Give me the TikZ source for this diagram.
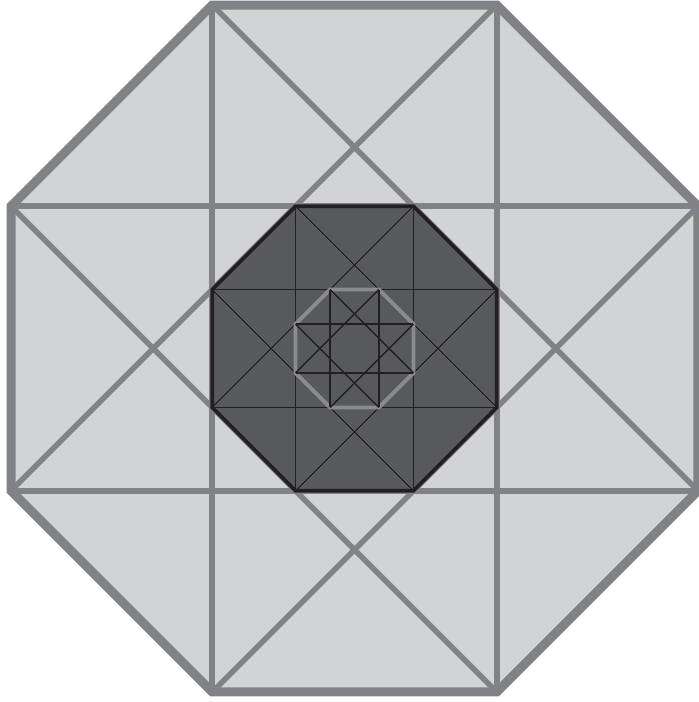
\documentclass[tikz,border=0pt]{standalone}
\definecolor{lightfill}{HTML}{D1D3D4}
\definecolor{midgray}{HTML}{808285}
\definecolor{shadegray}{HTML}{8A8B8E}
\definecolor{darkfill}{HTML}{58595B}
\definecolor{inkblack}{HTML}{231F20}
\tikzset{
  outerline/.style={draw=midgray, line width=5.5},
  outerborder/.style={draw=midgray, line width=9, line join=miter},
  midshade/.style={draw=shadegray, line width=1.8},
  midline/.style={draw=inkblack, line width=1.3},
  midborder/.style={draw=inkblack, line width=3.8, line join=miter},
  innerborder/.style={draw=shadegray, line width=3.8, line join=miter},
  innerline/.style={draw=inkblack, line width=1.4}
}
\begin{document}
\begin{tikzpicture}[x=1pt,y=-1pt]
\useasboundingbox (0,0) rectangle (699,702);
\begin{scope}[shift={(354.5,348.5)}]
  \foreach \k in {0,...,7}{
    \coordinate (A\k) at ({22.5+45*\k}:371.8);
    \coordinate (B\k) at ({22.5+45*\k}:154.0);
    \coordinate (C\k) at ({22.5+45*\k}:63.8);
  }
  % level 1
  \fill[lightfill] (A0)--(A1)--(A2)--(A3)--(A4)--(A5)--(A6)--(A7)--cycle;
  \foreach \k [evaluate=\k as \j using {int(mod(\k+3,8))}] in {0,...,7}
    \draw[outerline] (A\k)--(A\j);
  \draw[outerborder] (A0)--(A1)--(A2)--(A3)--(A4)--(A5)--(A6)--(A7)--cycle;
  % level 2
  \fill[darkfill] (B0)--(B1)--(B2)--(B3)--(B4)--(B5)--(B6)--(B7)--cycle;
  \begin{scope}
    \clip (B0)--(B1)--(B2)--(B3)--(B4)--(B5)--(B6)--(B7)--cycle;
    \begin{scope}[shift={(1.3,1.3)}]
      \foreach \k [evaluate=\k as \j using {int(mod(\k+3,8))}] in {0,...,7}
        \draw[midshade] (B\k)--(B\j);
    \end{scope}
  \end{scope}
  \foreach \k [evaluate=\k as \j using {int(mod(\k+3,8))}] in {0,...,7}
    \draw[midline] (B\k)--(B\j);
  % level 3
  \draw[innerborder] (C0)--(C1)--(C2)--(C3)--(C4)--(C5)--(C6)--(C7)--cycle;
  \foreach \k [evaluate=\k as \j using {int(mod(\k+3,8))}] in {0,...,7}
    \draw[innerline] (C\k)--(C\j);
  % level 2 border
  \draw[midborder] (B0)--(B1)--(B2)--(B3)--(B4)--(B5)--(B6)--(B7)--cycle;
\end{scope}
\end{tikzpicture}
\end{document}
